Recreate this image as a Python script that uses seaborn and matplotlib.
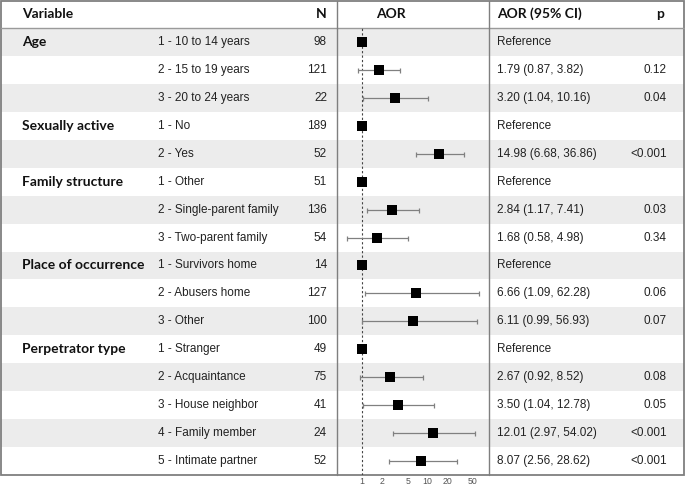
import numpy as np
import pandas as pd
import matplotlib
matplotlib.use("Agg")
import matplotlib.pyplot as plt
import seaborn as sns

# DATA ---------------------------------------------------------------
groups = ["Age", "", "",
          "Sexually active", "",
          "Family structure", "", "",
          "Place of occurrence", "", "",
          "Perpetrator type", "", "", "", ""]
levels = ["1 - 10 to 14 years", "2 - 15 to 19 years", "3 - 20 to 24 years",
          "1 - No", "2 - Yes",
          "1 - Other", "2 - Single-parent family", "3 - Two-parent family",
          "1 - Survivors home", "2 - Abusers home", "3 - Other",
          "1 - Stranger", "2 - Acquaintance", "3 - House neighbor",
          "4 - Family member", "5 - Intimate partner"]
n_obs = [98, 121, 22, 189, 52, 51, 136, 54, 14, 127, 100, 49, 75, 41, 24, 52]
aor = [1, 1.79, 3.20, 1, 14.98, 1, 2.84, 1.68, 1, 6.66, 6.11, 1, 2.67, 3.50, 12.01, 8.07]
ci_low = [np.nan, 0.87, 1.04, np.nan, 6.68, np.nan, 1.17, 0.58, np.nan, 1.09, 0.99,
          np.nan, 0.92, 1.04, 2.97, 2.56]
ci_high = [np.nan, 3.82, 10.16, np.nan, 36.86, np.nan, 7.41, 4.98, np.nan, 62.28, 56.93,
           np.nan, 8.52, 12.78, 54.02, 28.62]
aor_text = ["Reference", "1.79 (0.87, 3.82)", "3.20 (1.04, 10.16)",
            "Reference", "14.98 (6.68, 36.86)",
            "Reference", "2.84 (1.17, 7.41)", "1.68 (0.58, 4.98)",
            "Reference", "6.66 (1.09, 62.28)", "6.11 (0.99, 56.93)",
            "Reference", "2.67 (0.92, 8.52)", "3.50 (1.04, 12.78)",
            "12.01 (2.97, 54.02)", "8.07 (2.56, 28.62)"]
p_text = ["", "0.12", "0.04", "", "<0.001", "", "0.03", "0.34", "", "0.06", "0.07",
          "", "0.08", "0.05", "<0.001", "<0.001"]
ticks = [1, 2, 5, 10, 20, 50]

df = pd.DataFrame({"group": groups, "level": levels, "n": n_obs, "aor": aor,
                   "lo": ci_low, "hi": ci_high, "txt": aor_text, "p": p_text})
df["row"] = np.arange(len(df)) + 0.5

# LAYOUT -------------------------------------------------------------
sns.set_style("white")
plt.rcParams["font.family"] = ["Liberation Sans", "DejaVu Sans"]

W, H = 685, 487
top, bottom = 28, 475
row_h = (bottom - top) / len(df)
x_left, x_right = 337, 489

fig = plt.figure(figsize=(W / 100, H / 100), dpi=100)
tab = fig.add_axes([0, 0, 1, 1])
tab.set_xlim(0, W)
tab.set_ylim(H, 0)
tab.axis("off")

# zebra rows
for i in range(len(df)):
    if i % 2 == 0:
        tab.add_patch(plt.Rectangle((1, top + i * row_h), W - 2, row_h,
                                    color="#ececec", lw=0, zorder=0))

tab.add_patch(plt.Rectangle((1, 1), W - 2, bottom - 1, fill=False,
                            edgecolor="#7f7f7f", lw=1.3, zorder=3))
tab.plot([1, W - 1], [top, top], color="#9a9a9a", lw=1, zorder=3)
for xv in (x_left, x_right):
    tab.plot([xv, xv], [1, bottom], color="#7f7f7f", lw=1, zorder=3)

head = dict(family=["Lato", "DejaVu Sans"], fontweight="bold", fontsize=10,
            va="center", color="#111111")
hy = top / 2
tab.text(22, hy, "Variable", ha="left", **head)
tab.text(327, hy, "N", ha="right", **head)
tab.text(391, hy, "AOR", ha="center", **head)
tab.text(497, hy, "AOR (95% CI)", ha="left", **head)
tab.text(664, hy, "p", ha="right", **head)

body = dict(fontsize=8.5, va="center", color="#222222")
for i, r in df.iterrows():
    y = top + row_h * (i + 0.5)
    if r["group"]:
        tab.text(22, y, r["group"], ha="left", **head)
    tab.text(158, y, r["level"], ha="left", **body)
    tab.text(327, y, str(r["n"]), ha="right", **body)
    tab.text(497, y, r["txt"], ha="left", **body)
    tab.text(667, y, r["p"], ha="right", **body)

# FOREST PANEL -------------------------------------------------------
ax = fig.add_axes([x_left / W, (H - bottom) / H, (x_right - x_left) / W,
                   (bottom - top) / H])
ax.set_facecolor("none")
ax.set_xscale("log")
ax.set_xlim(0.41, 88)
ax.set_ylim(len(df), 0)
ax.axvline(1, color="#444444", lw=0.8, ls=(0, (2, 2)), zorder=1)

ci = df.dropna(subset=["lo"])
ax.errorbar(ci["aor"], ci["row"], xerr=[ci["aor"] - ci["lo"], ci["hi"] - ci["aor"]],
            fmt="none", ecolor="#808080", elinewidth=0.9, capsize=1.8, capthick=0.9,
            zorder=2)
sns.scatterplot(data=df, x="aor", y="row", marker="s", s=55, color="black",
                linewidth=0, ax=ax, zorder=3, legend=False)

for s in ax.spines.values():
    s.set_visible(False)
ax.set_yticks([])
ax.set_xticks(ticks)
ax.set_xticklabels([str(t) for t in ticks])
ax.xaxis.set_minor_locator(matplotlib.ticker.NullLocator())
ax.tick_params(axis="x", length=0, labelsize=6.3, labelcolor="#555555", pad=1.5)
ax.set_xlabel("")
ax.set_ylabel("")

fig.savefig("out.png", dpi=100)
